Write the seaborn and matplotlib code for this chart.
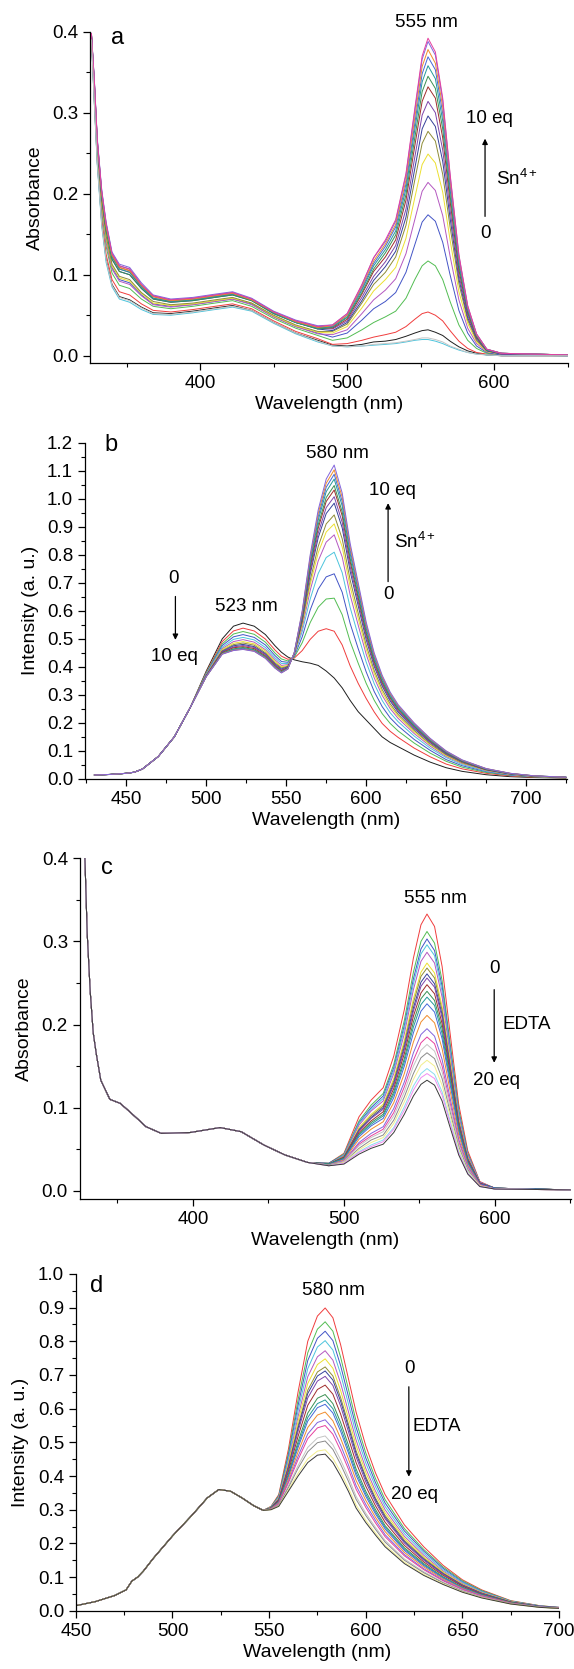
import pandas as pd
import matplotlib
matplotlib.use("Agg")
import matplotlib.pyplot as plt
from matplotlib.ticker import MultipleLocator, FormatStrFormatter
import seaborn as sns

# ---------------- panel a: absorbance, Sn4+ titration ----------------
a_wl = [326, 328, 330, 333, 336, 340, 345, 352, 360, 368, 380, 395, 410, 422, 435, 450, 465, 480,
        490, 500, 510, 518, 526, 533, 540, 546, 551, 555, 560, 565, 570, 576, 582, 588, 595, 605, 650]
a_names = ["black", "red", "green", "blue", "cyan", "magenta", "yellow", "dkyellow", "navy", "purple",
           "wine", "olive", "dkcyan", "royal", "orange", "violet", "pink", "ltgray"]
a_curves = [
    [.391, .312, .238, .164, .119, .088, .073, .069, .060, .053, .052, .055, .059, .062, .056, .041, .028, .019,
     .013, .012, .014, .017, .018, .020, .024, .028, .031, .032, .029, .025, .018, .011, .006, .003, .001, .000, .000],
    [.392, .316, .242, .169, .125, .094, .079, .075, .064, .056, .054, .057, .061, .064, .058, .043, .030, .021,
     .014, .015, .019, .023, .026, .029, .036, .045, .052, .054, .050, .043, .031, .018, .009, .004, .002, .000, .000],
    [.393, .322, .248, .178, .135, .102, .087, .083, .070, .061, .058, .061, .065, .068, .061, .046, .034, .025,
     .019, .022, .032, .041, .048, .055, .071, .094, .111, .117, .111, .094, .067, .038, .019, .009, .003, .001, .000],
    [.394, .327, .253, .185, .143, .109, .094, .090, .075, .064, .061, .063, .067, .070, .064, .048, .036, .028,
     .023, .028, .044, .058, .067, .078, .103, .137, .165, .174, .166, .140, .100, .056, .028, .012, .004, .001, .000],
    [.390, .310, .235, .160, .115, .085, .070, .066, .057, .051, .050, .053, .057, .060, .055, .040, .027, .017,
     .012, .011, .012, .013, .014, .015, .017, .019, .020, .020, .018, .015, .011, .007, .004, .002, .001, .000, .000],
    [.394, .325, .252, .183, .140, .107, .092, .088, .074, .063, .060, .063, .067, .070, .063, .048, .036, .027,
     .026, .032, .052, .069, .081, .095, .126, .168, .203, .214, .204, .173, .123, .069, .034, .015, .005, .002, .001],
    [.395, .328, .255, .187, .145, .111, .096, .092, .077, .065, .062, .064, .068, .071, .065, .049, .037, .029,
     .028, .036, .059, .080, .094, .109, .145, .195, .236, .249, .238, .202, .143, .079, .040, .017, .005, .002, .001],
    [.395, .330, .256, .189, .148, .113, .098, .094, .078, .067, .063, .065, .069, .072, .065, .050, .038, .030,
     .030, .039, .065, .088, .103, .122, .161, .217, .262, .277, .265, .224, .159, .089, .044, .019, .006, .002, .001],
    [.396, .334, .261, .196, .155, .119, .104, .100, .083, .070, .066, .068, .072, .075, .068, .052, .041, .033,
     .031, .041, .068, .093, .110, .129, .171, .231, .280, .296, .283, .240, .170, .095, .047, .021, .006, .002, .001],
    [.397, .336, .263, .198, .158, .122, .107, .103, .085, .071, .067, .069, .073, .076, .069, .053, .041, .034,
     .033, .043, .072, .098, .116, .136, .181, .245, .297, .314, .300, .254, .180, .100, .050, .022, .007, .002, .001],
    [.397, .337, .265, .201, .160, .124, .109, .105, .087, .073, .068, .070, .074, .077, .069, .054, .042, .035,
     .034, .045, .076, .104, .122, .143, .192, .259, .314, .332, .318, .269, .191, .106, .053, .023, .007, .003, .001],
    [.396, .334, .261, .196, .155, .119, .104, .100, .083, .070, .066, .068, .072, .075, .068, .052, .041, .033,
     .035, .047, .078, .107, .127, .149, .199, .269, .326, .345, .330, .280, .198, .110, .055, .024, .007, .003, .001],
    [.397, .336, .263, .198, .158, .122, .107, .103, .085, .071, .067, .069, .073, .076, .069, .053, .041, .034,
     .036, .048, .081, .111, .131, .154, .206, .279, .338, .358, .342, .290, .206, .114, .057, .025, .007, .003, .001],
    [.398, .339, .266, .203, .163, .126, .111, .107, .088, .074, .069, .071, .075, .078, .070, .054, .043, .036,
     .036, .050, .083, .114, .135, .159, .212, .287, .348, .369, .353, .299, .212, .118, .058, .026, .008, .003, .001],
    [.397, .337, .265, .201, .160, .124, .109, .105, .087, .073, .068, .070, .074, .077, .069, .054, .042, .035,
     .037, .050, .085, .117, .138, .162, .217, .294, .357, .378, .361, .307, .217, .121, .060, .026, .008, .003, .001],
    [.398, .340, .268, .205, .165, .128, .113, .109, .090, .075, .070, .072, .076, .079, .071, .055, .044, .037,
     .038, .052, .087, .121, .141, .166, .223, .302, .366, .388, .371, .315, .223, .124, .061, .027, .008, .003, .001],
    [.398, .339, .266, .203, .163, .126, .111, .107, .088, .074, .069, .071, .075, .078, .070, .054, .043, .036,
     .038, .052, .088, .121, .143, .168, .225, .305, .370, .392, .375, .318, .225, .125, .062, .027, .008, .003, .001],
    [.390, .312, .237, .162, .118, .087, .072, .068, .059, .052, .051, .054, .058, .061, .056, .041, .028, .018,
     .012, .011, .012, .014, .015, .016, .018, .020, .022, .022, .020, .017, .012, .008, .004, .002, .001, .000, .000],
]

# ---------------- panel b: emission, Sn4+ titration ----------------
b_wl = [430, 440, 450, 455, 460, 470, 480, 490, 500, 510, 517, 523, 530, 537, 543, 547, 551,
        555, 560, 565, 570, 575, 580, 585, 590, 595, 600, 605, 610, 615, 620, 630, 640, 650, 660, 675, 690, 705, 725]
b_rise = [0.014, 0.016, 0.020, 0.024, 0.035, 0.080, 0.150, 0.255]  # 430-490 nm, common to all curves
b_names = ["black", "red", "green", "blue", "cyan", "magenta", "yellow", "dkyellow", "navy", "purple",
           "wine", "olive", "dkcyan", "royal", "orange", "violet"]
b_curves = [
    [.385, .500, .545, .556, .545, .515, .475, .452, .435, .425, .418, .413, .405, .385, .360, .325, .280, .240, .210, .180, .150, .130, .115, .085, .060, .040, .027, .015, .008, .005, .003],
    [.381, .490, .528, .538, .528, .499, .460, .438, .427, .431, .458, .498, .527, .536, .527, .478, .403, .341, .287, .239, .198, .170, .148, .110, .079, .053, .036, .020, .011, .006, .004],
    [.379, .482, .517, .526, .516, .488, .449, .428, .421, .434, .486, .558, .613, .642, .645, .586, .490, .413, .341, .281, .233, .198, .171, .128, .092, .063, .042, .023, .013, .007, .004],
    [.376, .476, .507, .515, .505, .478, .440, .419, .416, .437, .507, .603, .677, .721, .732, .666, .554, .465, .382, .312, .258, .218, .189, .141, .102, .069, .047, .026, .014, .008, .005],
    [.374, .470, .498, .505, .496, .469, .432, .412, .412, .440, .526, .642, .733, .790, .809, .736, .611, .512, .417, .340, .280, .236, .204, .153, .110, .076, .051, .028, .015, .009, .005],
    [.372, .465, .490, .497, .488, .461, .425, .405, .408, .442, .540, .673, .778, .845, .871, .792, .656, .549, .445, .361, .298, .251, .216, .162, .117, .080, .055, .030, .016, .009, .005],
    [.371, .462, .484, .490, .482, .456, .419, .400, .405, .443, .550, .693, .807, .881, .910, .828, .685, .573, .463, .376, .309, .260, .224, .168, .122, .083, .057, .031, .017, .009, .005],
    [.370, .458, .479, .485, .477, .450, .414, .396, .402, .444, .557, .709, .830, .910, .942, .857, .709, .592, .478, .387, .319, .268, .230, .173, .125, .086, .058, .032, .017, .010, .005],
    [.369, .455, .475, .480, .472, .446, .410, .392, .400, .446, .567, .731, .861, .947, .984, .896, .740, .618, .497, .402, .331, .278, .238, .179, .130, .089, .061, .033, .018, .010, .006],
    [.368, .453, .471, .476, .469, .443, .407, .389, .398, .446, .573, .742, .877, .968, 1.007, .916, .757, .632, .508, .410, .337, .283, .243, .183, .132, .091, .062, .034, .018, .010, .006],
    [.367, .451, .468, .472, .465, .439, .404, .386, .397, .447, .579, .755, .895, .990, 1.031, .939, .775, .646, .519, .418, .344, .289, .248, .187, .135, .093, .063, .034, .019, .010, .006],
    [.366, .449, .464, .469, .461, .436, .401, .383, .395, .448, .583, .763, .907, 1.004, 1.047, .953, .786, .656, .526, .424, .349, .293, .251, .189, .137, .094, .064, .035, .019, .010, .006],
    [.366, .447, .462, .466, .459, .433, .398, .381, .394, .448, .588, .775, .923, 1.025, 1.070, .974, .803, .670, .537, .432, .356, .298, .255, .192, .139, .096, .065, .036, .019, .011, .006],
    [.365, .446, .460, .464, .457, .432, .397, .380, .393, .449, .592, .783, .936, 1.041, 1.087, .990, .816, .680, .545, .438, .361, .302, .259, .195, .141, .097, .066, .036, .020, .011, .006],
    [.365, .446, .459, .463, .456, .431, .396, .379, .392, .450, .596, .792, .948, 1.055, 1.103, 1.005, .828, .690, .552, .444, .365, .306, .262, .198, .143, .099, .067, .037, .020, .011, .006],
    [.365, .445, .458, .462, .455, .430, .395, .378, .392, .450, .600, .800, .960, 1.070, 1.120, 1.020, .840, .700, .560, .450, .370, .310, .265, .200, .145, .100, .068, .037, .020, .011, .006],
]

# ---------------- panel c: absorbance, EDTA reversal ----------------
c_uv_wl = [326, 328.5, 330, 332, 334, 336, 339, 345, 352, 360, 369, 379, 398, 418, 432, 447, 461, 476]
c_uv_abs = [0.46, 0.40, 0.31, 0.24, 0.19, 0.165, 0.133, 0.110, 0.105, 0.092, 0.077, 0.069,
            0.070, 0.076, 0.071, 0.055, 0.043, 0.034]
c_band_wl = [490, 500, 510, 518, 526, 533, 540, 546, 551, 555, 560, 565, 570, 576, 582, 590, 600, 650]
c_names = ["red", "green", "blue", "cyan", "magenta", "yellow", "dkyellow", "navy", "purple", "wine", "olive",
           "dkcyan", "royal", "orange", "violet", "pink", "ltgray", "gray", "ltyellow", "ltcyan", "ltmagenta", "dkgray"]
c_curves = [
    [.033, .045, .089, .109, .124, .162, .218, .280, .320, .333, .318, .270, .194, .104, .048, .011, .003, .001],
    [.033, .044, .084, .103, .117, .152, .205, .263, .300, .312, .298, .253, .182, .098, .045, .010, .003, .001],
    [.033, .043, .082, .100, .114, .148, .199, .255, .291, .303, .289, .246, .177, .095, .044, .010, .003, .001],
    [.032, .043, .081, .098, .111, .145, .195, .249, .285, .296, .283, .240, .173, .093, .043, .010, .003, .001],
    [.032, .042, .079, .096, .108, .141, .189, .242, .276, .287, .274, .233, .167, .090, .042, .010, .003, .001],
    [.032, .041, .076, .092, .104, .135, .181, .231, .263, .274, .262, .222, .160, .086, .040, .009, .003, .001],
    [.032, .041, .074, .090, .102, .132, .177, .226, .258, .268, .256, .217, .156, .084, .039, .009, .003, .001],
    [.032, .040, .073, .088, .100, .129, .173, .220, .251, .261, .249, .212, .152, .082, .038, .009, .003, .001],
    [.032, .040, .072, .087, .098, .127, .170, .216, .246, .256, .245, .208, .149, .081, .037, .009, .003, .001],
    [.032, .040, .070, .084, .095, .123, .165, .210, .238, .248, .237, .201, .145, .078, .036, .009, .003, .001],
    [.032, .039, .068, .082, .092, .119, .159, .203, .231, .240, .229, .195, .140, .076, .035, .008, .003, .001],
    [.032, .039, .067, .080, .090, .116, .155, .197, .224, .233, .223, .189, .136, .074, .034, .008, .003, .001],
    [.031, .038, .065, .078, .087, .112, .150, .190, .216, .225, .215, .183, .131, .071, .033, .008, .003, .001],
    [.031, .037, .062, .074, .083, .106, .141, .179, .203, .211, .202, .171, .123, .067, .031, .007, .002, .001],
    [.031, .036, .058, .069, .077, .099, .131, .166, .188, .195, .186, .158, .114, .062, .029, .007, .002, .001],
    [.031, .035, .056, .066, .074, .094, .125, .157, .178, .185, .177, .150, .108, .059, .027, .007, .002, .001],
    [.031, .035, .054, .064, .071, .090, .119, .150, .169, .176, .168, .143, .103, .056, .026, .006, .002, .001],
    [.031, .034, .051, .061, .067, .085, .113, .141, .160, .166, .159, .135, .097, .053, .025, .006, .002, .001],
    [.030, .034, .049, .058, .064, .081, .107, .134, .151, .157, .150, .127, .092, .050, .023, .006, .002, .001],
    [.030, .033, .047, .055, .061, .076, .101, .126, .141, .147, .140, .119, .086, .047, .022, .005, .002, .001],
    [.030, .033, .046, .053, .059, .074, .097, .121, .136, .141, .135, .115, .083, .045, .021, .005, .002, .001],
    [.030, .032, .044, .051, .056, .070, .092, .114, .128, .133, .127, .108, .078, .043, .020, .005, .002, .001],
]

# ---------------- panel d: emission, EDTA reversal ----------------
d_left_wl = [450, 460, 470, 476, 479, 482, 485, 490, 500, 510, 518, 524, 530, 536, 542, 547]
d_left = [0.015, 0.027, 0.045, 0.062, 0.088, 0.100, 0.118, 0.155, 0.222, 0.283, 0.335, 0.360,
          0.355, 0.335, 0.312, 0.298]
d_right_wl = [551, 555, 560, 565, 570, 575, 579, 583, 587, 591, 595, 600, 605, 610, 620, 630, 640, 650, 660, 675, 690, 700]
d_names = ["red", "green", "blue", "cyan", "magenta", "yellow", "dkyellow", "navy", "purple", "wine",
           "olive", "dkcyan", "royal", "orange", "violet", "pink", "ltgray", "gray", "ltyellow", "dkgray"]
d_curves = [
    [.310, .345, .480, .650, .800, .875, .899, .870, .790, .690, .590, .490, .410, .345, .255, .190, .135, .092, .062, .030, .015, .010],
    [.309, .342, .468, .627, .766, .836, .858, .830, .753, .659, .563, .469, .393, .330, .244, .182, .130, .089, .060, .029, .015, .010],
    [.308, .339, .460, .610, .743, .809, .830, .802, .728, .637, .545, .454, .381, .320, .237, .177, .126, .086, .058, .028, .014, .010],
    [.308, .337, .452, .594, .719, .783, .802, .774, .703, .615, .526, .439, .369, .310, .229, .171, .122, .084, .057, .028, .014, .009],
    [.307, .335, .443, .577, .695, .754, .772, .744, .676, .592, .507, .423, .356, .300, .221, .165, .118, .081, .055, .027, .014, .009],
    [.307, .333, .437, .563, .675, .731, .748, .720, .654, .573, .491, .411, .346, .291, .215, .160, .115, .079, .054, .027, .013, .009],
    [.306, .331, .430, .549, .655, .709, .724, .697, .633, .555, .475, .398, .335, .283, .209, .156, .112, .077, .052, .026, .013, .009],
    [.306, .330, .426, .542, .645, .697, .712, .685, .622, .546, .467, .392, .330, .278, .205, .153, .110, .076, .052, .026, .013, .009],
    [.305, .329, .422, .533, .632, .682, .696, .669, .608, .533, .457, .383, .323, .273, .201, .150, .108, .075, .051, .025, .013, .009],
    [.305, .327, .414, .518, .610, .657, .670, .643, .584, .513, .440, .370, .312, .263, .194, .145, .105, .073, .049, .025, .012, .008],
    [.304, .324, .406, .502, .587, .631, .642, .615, .559, .492, .421, .355, .301, .253, .187, .140, .101, .070, .048, .024, .012, .008],
    [.304, .323, .401, .493, .574, .615, .626, .600, .545, .479, .411, .347, .294, .248, .183, .137, .099, .069, .047, .024, .012, .008],
    [.303, .322, .398, .485, .563, .603, .613, .587, .533, .469, .402, .340, .288, .243, .179, .134, .097, .068, .046, .023, .012, .008],
    [.303, .320, .391, .472, .544, .581, .590, .564, .512, .452, .387, .328, .278, .235, .173, .130, .094, .066, .045, .023, .011, .008],
    [.302, .318, .384, .459, .525, .559, .567, .541, .492, .434, .372, .316, .269, .226, .167, .125, .091, .064, .044, .022, .011, .008],
    [.302, .317, .380, .449, .511, .543, .550, .524, .476, .421, .361, .307, .261, .220, .163, .122, .089, .062, .043, .022, .011, .008],
    [.301, .314, .371, .431, .485, .513, .519, .493, .448, .397, .340, .290, .248, .209, .154, .116, .085, .060, .041, .021, .011, .007],
    [.301, .313, .366, .423, .472, .499, .504, .479, .435, .385, .331, .283, .242, .204, .150, .113, .083, .058, .040, .021, .011, .007],
    [.300, .311, .359, .408, .451, .474, .478, .453, .412, .365, .314, .269, .231, .195, .144, .108, .080, .056, .039, .020, .010, .007],
    [.300, .310, .355, .400, .440, .462, .465, .440, .400, .355, .305, .262, .225, .190, .140, .105, .078, .055, .038, .020, .010, .007],
]

# Origin-like line colours (as they look after JPEG softening)
line_colors = {
    "black": "#1e1e1e", "red": "#f03c3c", "green": "#52bd52", "blue": "#4254c6", "cyan": "#4cc4dc",
    "magenta": "#b458c0", "yellow": "#ece030", "dkyellow": "#8e8c36", "navy": "#34409a", "purple": "#7c44aa",
    "wine": "#a02c2c", "olive": "#3a9052", "dkcyan": "#24989a", "royal": "#4468d8", "orange": "#f08c2c",
    "violet": "#8264dc", "pink": "#e6409e", "ltgray": "#c4c4c4", "gray": "#8a8a8a", "ltyellow": "#f2ee8c",
    "ltcyan": "#8adcef", "ltmagenta": "#f08cf0", "dkgray": "#3a3a3a",
}


def long_frame(wl_rows, curves, names):
    parts = []
    for name, wl, vals in zip(names, wl_rows, curves):
        parts.append(pd.DataFrame({"wl": wl, "val": vals, "curve": name}))
    return pd.concat(parts, ignore_index=True)


sns.set_theme(style="ticks", rc={
    "axes.linewidth": 0.9, "axes.edgecolor": "black",
    "xtick.direction": "out", "ytick.direction": "out",
    "xtick.major.size": 5, "ytick.major.size": 5,
    "xtick.minor.size": 3, "ytick.minor.size": 3,
    "xtick.major.width": 0.9, "ytick.major.width": 0.9,
    "xtick.minor.width": 0.8, "ytick.minor.width": 0.8,
    "xtick.color": "black", "ytick.color": "black",
    "xtick.labelsize": 13.5, "ytick.labelsize": 13.5,
    "axes.labelsize": 14, "text.color": "black", "axes.labelcolor": "black",
})
plt.rcParams["font.family"] = ["Liberation Sans", "DejaVu Sans"]
plt.rcParams["mathtext.fontset"] = "custom"
plt.rcParams["mathtext.rm"] = "Liberation Sans"

fig = plt.figure(figsize=(5.74, 16.69), dpi=100)
ax_a = fig.add_axes([0.1575, 0.7823, 0.8322, 0.1987])
ax_b = fig.add_axes([0.1479, 0.5333, 0.8394, 0.2015])
ax_c = fig.add_axes([0.1390, 0.2816, 0.8559, 0.2041])
ax_d = fig.add_axes([0.1321, 0.0349, 0.8418, 0.2018])

panels = [
    (ax_a, long_frame([a_wl] * len(a_curves), a_curves, a_names), a_names),
    (ax_b, long_frame([b_wl] * len(b_curves), [b_rise + c for c in b_curves], b_names), b_names),
    (ax_c, long_frame([c_uv_wl + c_band_wl] * len(c_curves), [c_uv_abs + c for c in c_curves], c_names), c_names),
    (ax_d, long_frame([d_left_wl + d_right_wl] * len(d_curves), [d_left + c for c in d_curves], d_names), d_names),
]
for ax, df, names in panels:
    sns.lineplot(data=df, x="wl", y="val", hue="curve", hue_order=names,
                 palette={n: line_colors[n] for n in names}, estimator=None, sort=False,
                 legend=False, linewidth=0.7, ax=ax)
    sns.despine(ax=ax)
    ax.set_xlabel("Wavelength (nm)", labelpad=3)
    ax.yaxis.set_major_formatter(FormatStrFormatter("%.1f"))
    ax.yaxis.set_minor_locator(MultipleLocator(0.05))
    ax.yaxis.set_major_locator(MultipleLocator(0.1))

# axis ranges and ticks
for ax in (ax_a, ax_c):
    ax.set_ylabel("Absorbance", labelpad=6)
    ax.xaxis.set_major_locator(MultipleLocator(100))
    ax.xaxis.set_minor_locator(MultipleLocator(50))
for ax in (ax_b, ax_d):
    ax.set_ylabel("Intensity (a. u.)", labelpad=6)
    ax.xaxis.set_major_locator(MultipleLocator(50))
    ax.xaxis.set_minor_locator(MultipleLocator(25))
ax_a.set_xlim(325.3, 650.3)
ax_a.set_ylim(-0.0094, 0.4)
ax_b.set_xlim(424.1, 725.4)
ax_b.set_ylim(0, 1.2)
ax_c.set_xlim(325.1, 650.4)
ax_c.set_ylim(-0.010, 0.4)
ax_d.set_xlim(450, 700)
ax_d.set_ylim(0, 1.0)

arrow = dict(arrowstyle="-|>", color="black", lw=0.9, mutation_scale=8, shrinkA=0, shrinkB=0)
fs = 13.5

# panel a annotations
ax_a.text(344, 0.392, "a", fontsize=17, ha="center", va="center")
ax_a.text(553.6, 0.411, "555 nm", fontsize=fs, ha="center", va="center", clip_on=False)
ax_a.text(597, 0.293, "10 eq", fontsize=fs, ha="center", va="center")
ax_a.annotate("", xy=(593.8, 0.268), xytext=(593.8, 0.172), arrowprops=arrow)
ax_a.text(601.5, 0.219, r"Sn$^{4+}$", fontsize=fs, ha="left", va="center")
ax_a.text(594, 0.151, "0", fontsize=fs, ha="center", va="center")

# panel b annotations
ax_b.text(440.2, 1.192, "b", fontsize=17, ha="center", va="center")
ax_b.text(582.2, 1.162, "580 nm", fontsize=fs, ha="center", va="center")
ax_b.text(616.5, 1.029, "10 eq", fontsize=fs, ha="center", va="center")
ax_b.annotate("", xy=(613.7, 0.984), xytext=(613.7, 0.704), arrowprops=arrow)
ax_b.text(617.1, 0.847, r"Sn$^{4+}$", fontsize=fs, ha="left", va="center")
ax_b.text(613.7, 0.657, "0", fontsize=fs, ha="center", va="center")
ax_b.text(479.8, 0.716, "0", fontsize=fs, ha="center", va="center")
ax_b.annotate("", xy=(480.7, 0.496), xytext=(480.7, 0.651), arrowprops=arrow)
ax_b.text(479.8, 0.436, "10 eq", fontsize=fs, ha="center", va="center")
ax_b.text(525, 0.615, "523 nm", fontsize=fs, ha="center", va="center")

# panel c annotations
ax_c.text(343.1, 0.388, "c", fontsize=17, ha="center", va="center")
ax_c.text(560.7, 0.352, "555 nm", fontsize=fs, ha="center", va="center")
ax_c.text(600, 0.268, "0", fontsize=fs, ha="center", va="center")
ax_c.annotate("", xy=(599.5, 0.154), xytext=(599.5, 0.242), arrowprops=arrow)
ax_c.text(604.9, 0.200, "EDTA", fontsize=fs, ha="left", va="center")
ax_c.text(601.3, 0.133, "20 eq", fontsize=fs, ha="center", va="center")

# panel d annotations
ax_d.text(461, 0.964, "d", fontsize=17, ha="center", va="center")
ax_d.text(583.1, 0.950, "580 nm", fontsize=fs, ha="center", va="center")
ax_d.text(622.5, 0.720, "0", fontsize=fs, ha="center", va="center")
ax_d.annotate("", xy=(622.3, 0.398), xytext=(622.3, 0.665), arrowprops=arrow)
ax_d.text(624.4, 0.546, "EDTA", fontsize=fs, ha="left", va="center")
ax_d.text(625.3, 0.344, "20 eq", fontsize=fs, ha="center", va="center")

fig.savefig("out.png", dpi=100)
